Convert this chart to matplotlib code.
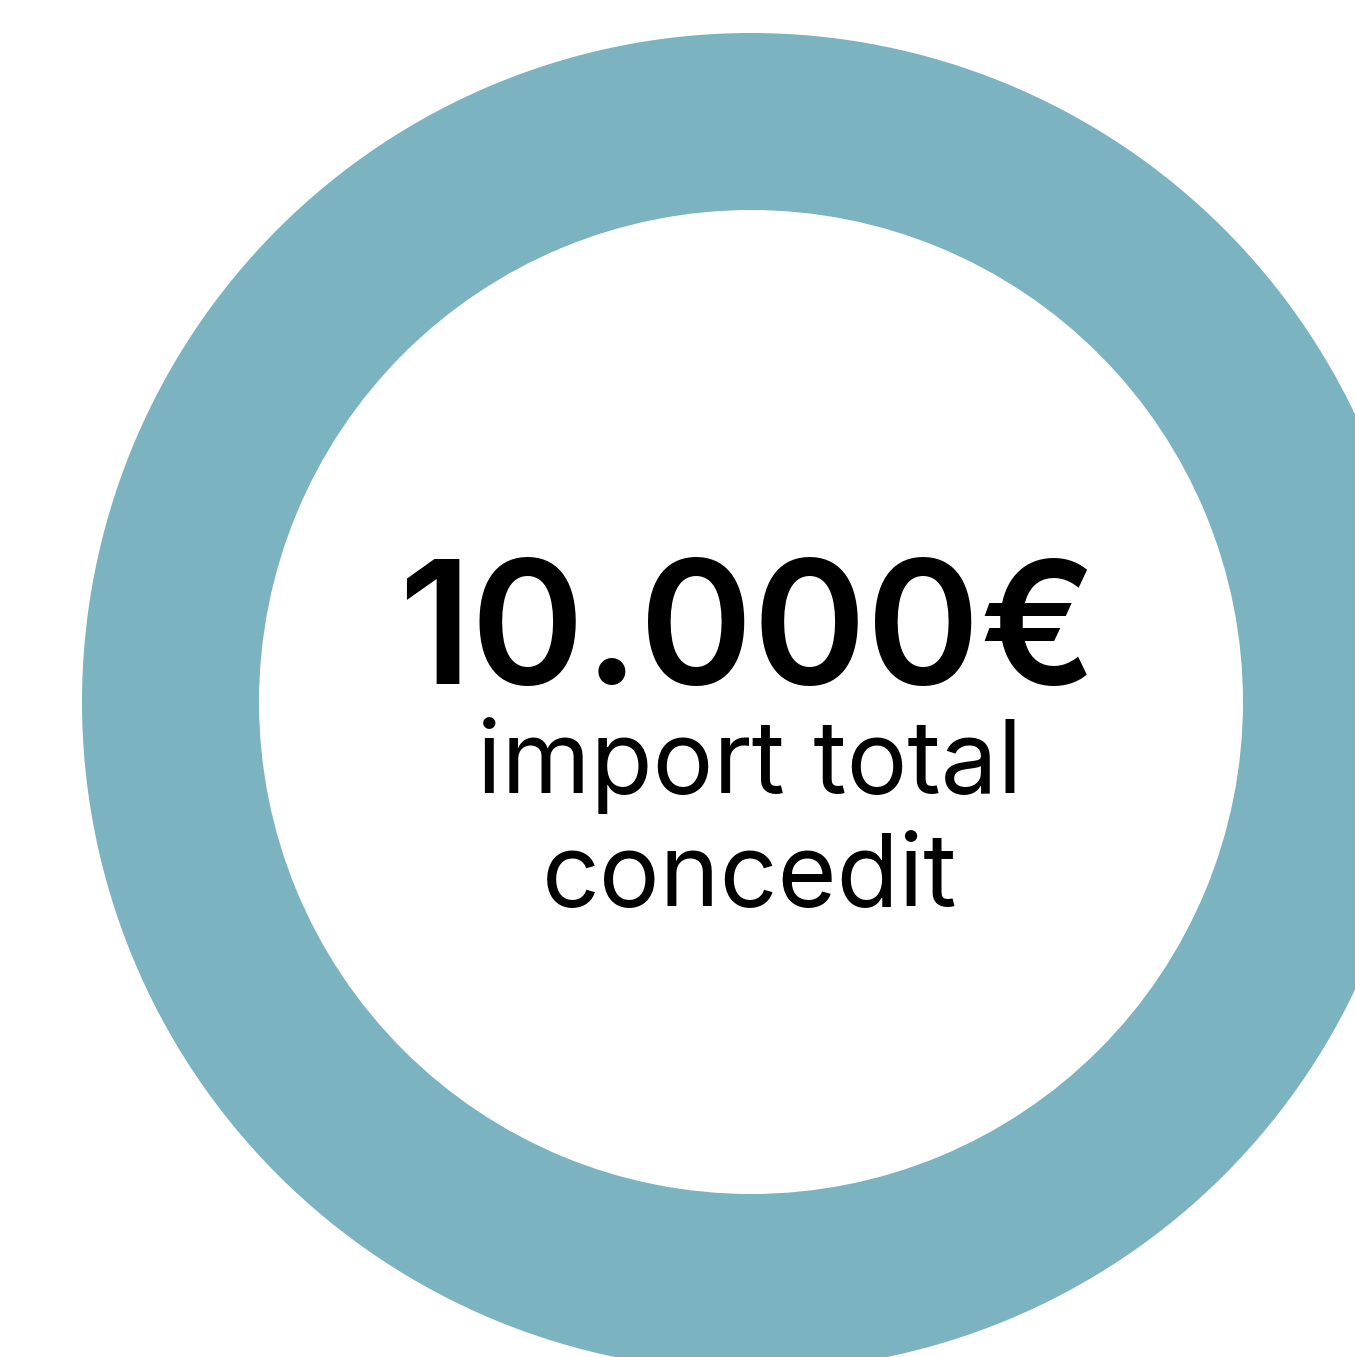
import matplotlib
import matplotlib.pyplot as plt

matplotlib.use('Agg')

# data
amounts = [10000]
ring_colors = ['#7bb3c0']
headline = '10.000€'
caption_lines = ['import total', 'concedit']

fig = plt.figure(figsize=(13.55, 13.57), dpi=100)
ax = fig.add_axes([0, 0, 1, 1])

ax.pie(amounts, colors=ring_colors, center=(751, 702), radius=669,
       startangle=90, counterclock=False,
       wedgeprops=dict(width=177, linewidth=0))
# pie resets limits, put them back
ax.set_xlim(0, 1355)
ax.set_ylim(1357, 0)
ax.set_aspect('equal')
ax.axis('off')

ax.text(748, 684, headline, ha='center', va='baseline',
        fontsize=124, fontweight='semibold', family=['Inter', 'DejaVu Sans'],
        color='black')
ax.text(750, 793, caption_lines[0], ha='center', va='baseline',
        fontsize=73, fontweight='normal', family=['Inter', 'DejaVu Sans'],
        color='black')
ax.text(750, 905, caption_lines[1], ha='center', va='baseline',
        fontsize=73, fontweight='normal', family=['Inter', 'DejaVu Sans'],
        color='black')

plt.savefig('out.png', dpi=100)
plt.close()
